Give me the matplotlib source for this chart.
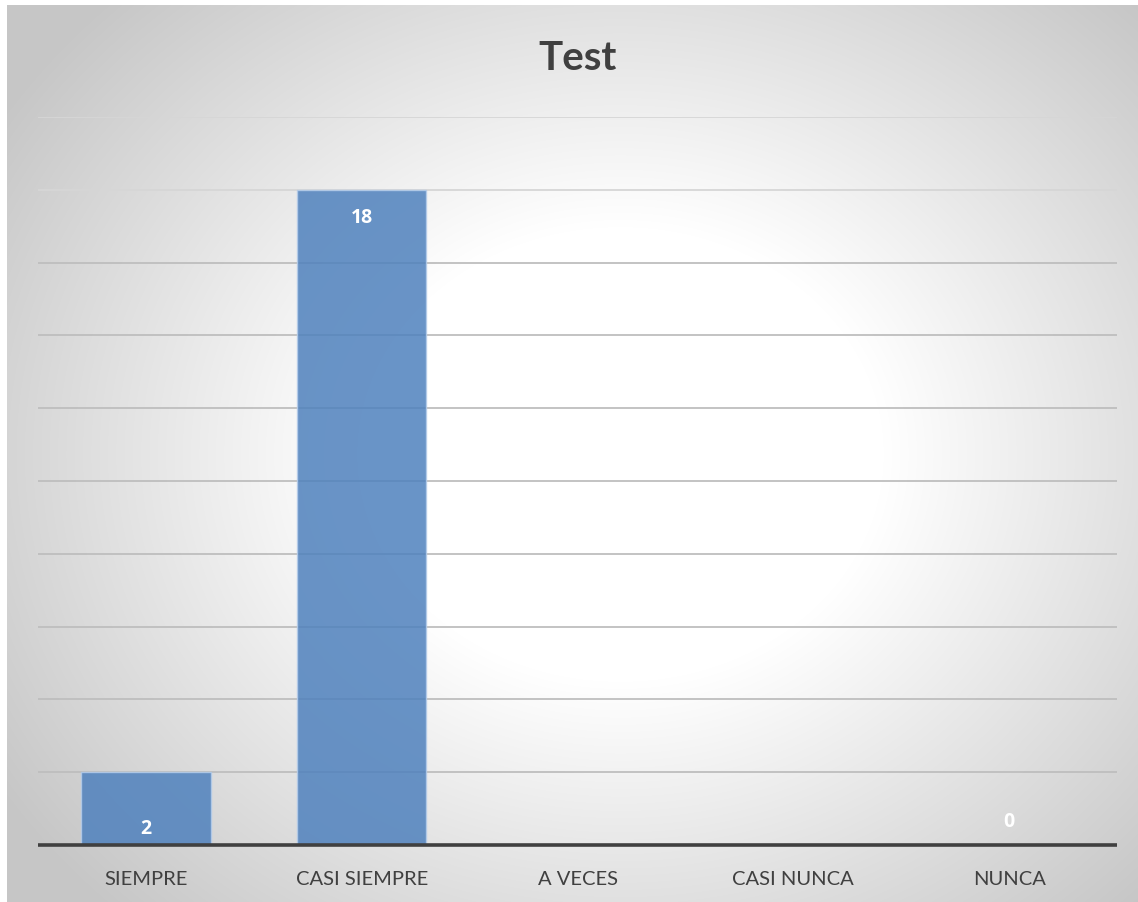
import numpy as np
import matplotlib
matplotlib.use("Agg")
import matplotlib.pyplot as plt

# Survey answers and their counts (blank answers have no value)
categories = ["SIEMPRE", "CASI SIEMPRE", "A VECES", "CASI NUNCA", "NUNCA"]
counts = [2, 18, np.nan, np.nan, 0]
title = "Test"

W, H, DPI = 1138, 903, 100
fig = plt.figure(figsize=(W / DPI, H / DPI), dpi=DPI)
fig.patch.set_facecolor("white")

# Radial grey-to-white backdrop for the chart area
bg = fig.add_axes([7 / W, 0, 1 - 7 / W, 1 - 6 / H], zorder=0)
yy, xx = np.mgrid[0:897, 0:1131]
cx, cy = 620 - 7, 455 - 6
r = np.hypot((xx - cx) * 0.95, (yy - cy) * 1.1)
t = np.clip((r - 250) / (700 - 250), 0, 1)
g = (255 - (255 - 198) * t) / 255.0
bg.imshow(np.dstack([g, g, g]), aspect="auto", interpolation="bilinear")
bg.set_axis_off()

ax = fig.add_axes([38 / W, 1 - 846 / H, (1117 - 38) / W, (846 - 118) / H], zorder=1)
ax.patch.set_alpha(0)
x = np.arange(len(categories))
ax.set_xlim(-0.5, len(categories) - 0.5)
ax.set_ylim(0, 20)

# Horizontal gridlines, lighter towards the top
levels = np.arange(2, 21, 2)
for lv in levels:
    shade = "#D6D6D6" if lv >= 18 else "#BEBEBE"
    ax.axhline(lv, color=shade, lw=1.3, zorder=1)

bars = ax.bar(x, np.nan_to_num(counts), width=0.6, color="#4F81BD", alpha=0.85,
              edgecolor="#B4CCEA", linewidth=1.0, zorder=2)

# Value labels (offsets in points relative to bar top)
label_offsets = [-40, -19.5, 0, 0, 17]
for xi, v, off in zip(x, counts, label_offsets):
    if np.isnan(v):
        continue
    ax.annotate(f"{v:g}", xy=(xi, v), xytext=(0, off), textcoords="offset points",
                ha="center", va="center", color="white", fontsize=14,
                fontweight="bold", family="Open Sans", zorder=4)

ax.axhline(0, color="#404040", lw=2.6, zorder=3, clip_on=False,
           solid_capstyle="butt")
for s in ax.spines.values():
    s.set_visible(False)
ax.set_yticks([])
ax.set_xticks(x)
ax.set_xticklabels(categories, fontsize=14.5, color="#404040", family="Lato")
ax.tick_params(axis="x", length=0, pad=18)

fig.text(578 / W, 1 - 58 / H, title, ha="center", va="center", fontsize=29,
         fontweight="bold", color="#404040", family="Lato")

fig.savefig("out.png", dpi=DPI)
